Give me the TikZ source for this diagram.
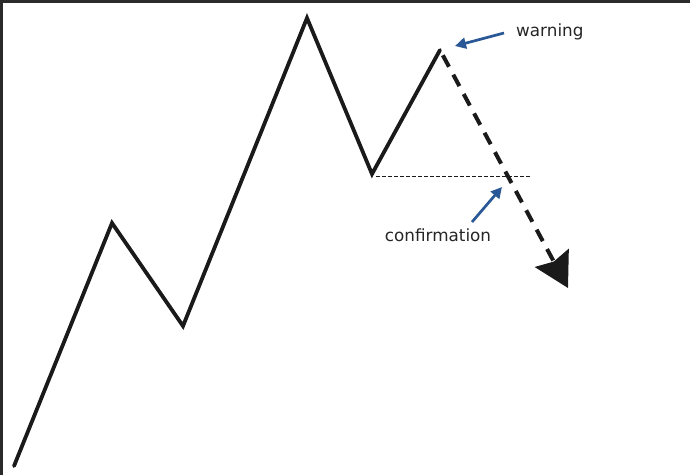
\documentclass[tikz,border=0pt]{standalone}
\usepackage{fontspec}
\setmainfont{DejaVu Sans}
\usetikzlibrary{arrows.meta}
\definecolor{frame}{HTML}{2B2B2B}
\definecolor{callout}{HTML}{2A5896}
\definecolor{ink}{HTML}{1A1A1A}
\tikzset{
  zig/.style={draw=ink, line width=3.8pt, line join=miter, line cap=round},
  fall/.style={draw=ink, line width=4pt, dash pattern=on 13pt off 9pt, dash phase=-6pt,
    -{Stealth[length=34pt,width=38pt,inset=4pt]}},
  level/.style={draw=ink, line width=0.9pt, dash pattern=on 4pt off 2pt},
  pointer/.style={draw=callout, line width=2.7pt, -{Triangle[length=11pt,width=11pt]}},
  lbl/.style={font=\fontsize{16.8}{19}\selectfont, text=black!85, inner sep=0pt}
}
\begin{document}
\begin{tikzpicture}[x=1pt,y=-1pt]
\fill[white] (0,0) rectangle (690,475);
\useasboundingbox (0,0) rectangle (690,475);
\fill[frame] (0,0) rectangle (690,3);
\fill[frame] (0,0) rectangle (3,475);
% vertices
\coordinate (p0) at (14,466);
\coordinate (p1) at (112,223);
\coordinate (p2) at (183,326);
\coordinate (p3) at (307,18);
\coordinate (p4) at (372,174);
\coordinate (p5) at (440,50);
\coordinate (tip) at (568,288);
\coordinate (l0) at (376,176);
\coordinate (l1) at (530,176);
\coordinate (wend) at (455,46);
\coordinate (cend) at (502,187);
% zigzag
\draw[zig] (p0) -- (p1) -- (p2) -- (p3) -- (p4) -- (p5);
% projected fall
\draw[fall] (p5) -- (tip);
% confirmation level
\draw[level] (l0) -- (l1);
% labels
\node[lbl, anchor=base west] (warn) at (516,36) {warning};
\node[lbl, anchor=base] (conf) at (438,241) {confirmation};
\coordinate (wstart) at (504,33);
\coordinate (cstart) at (472,222);
\draw[pointer] (wstart) -- (wend);
\draw[pointer] (cstart) -- (cend);
\end{tikzpicture}
\end{document}
